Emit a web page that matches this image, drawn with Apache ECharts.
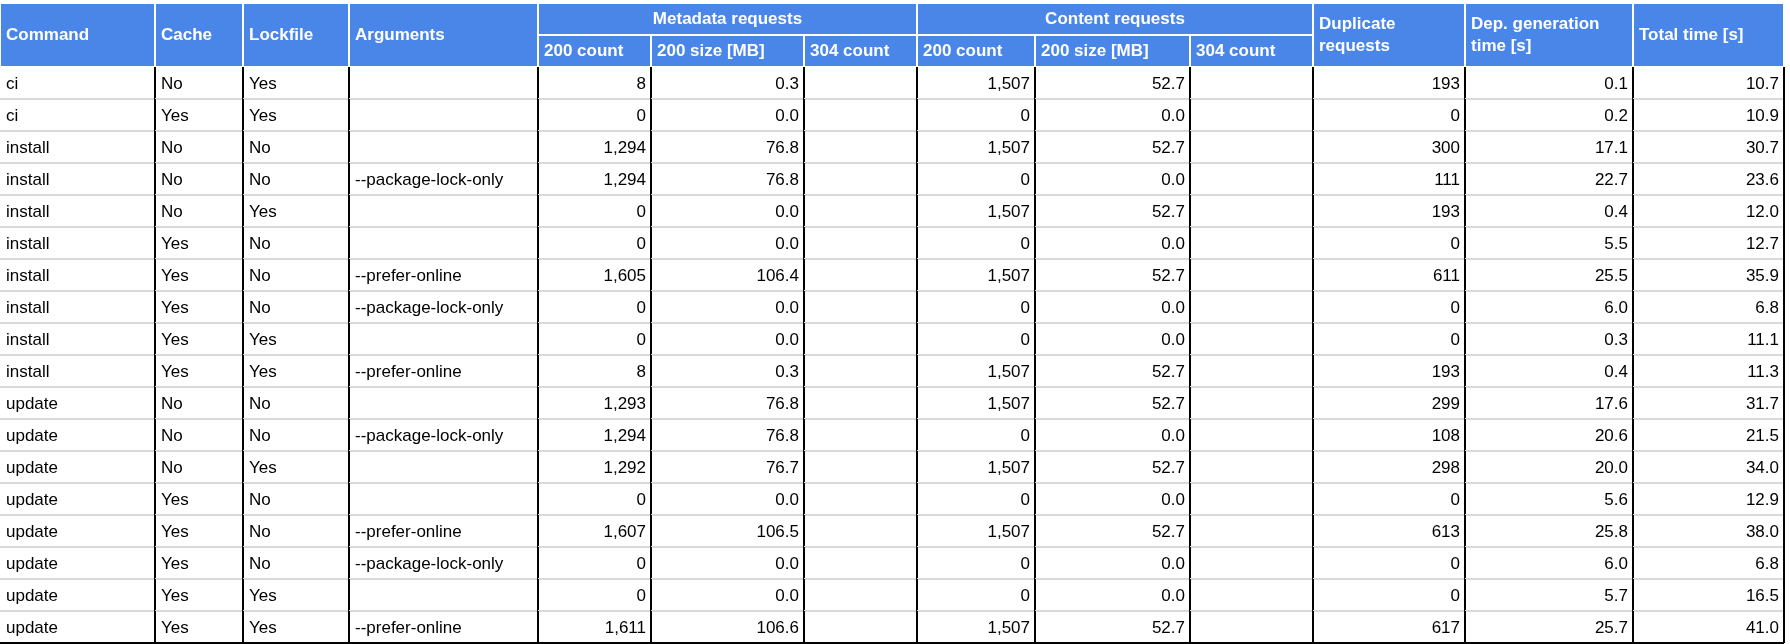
<!DOCTYPE html>
<html>
<head>
<meta charset="utf-8">
<script src="https://cdn.jsdelivr.net/npm/echarts@6/dist/echarts.min.js"></script>
<style>html,body{margin:0;padding:0;background:#fff}#main{width:1790px;height:644px}</style>
</head>
<body>
<div id="main"></div>
<script>
var commands = ['ci','ci','install','install','install','install','install','install','install','install','update','update','update','update','update','update','update','update'];
var cache = ['No','Yes','No','No','No','Yes','Yes','Yes','Yes','Yes','No','No','No','Yes','Yes','Yes','Yes','Yes'];
var lockfile = ['Yes','Yes','No','No','Yes','No','No','No','Yes','Yes','No','No','Yes','No','No','No','Yes','Yes'];
var args = ['','','','--package-lock-only','','','--prefer-online','--package-lock-only','','--prefer-online','','--package-lock-only','','','--prefer-online','--package-lock-only','','--prefer-online'];
var meta200Count = ['8','0','1,294','1,294','0','0','1,605','0','0','8','1,293','1,294','1,292','0','1,607','0','0','1,611'];
var meta200Size = ['0.3','0.0','76.8','76.8','0.0','0.0','106.4','0.0','0.0','0.3','76.8','76.8','76.7','0.0','106.5','0.0','0.0','106.6'];
var content200Count = ['1,507','0','1,507','0','1,507','0','1,507','0','0','1,507','1,507','0','1,507','0','1,507','0','0','1,507'];
var content200Size = ['52.7','0.0','52.7','0.0','52.7','0.0','52.7','0.0','0.0','52.7','52.7','0.0','52.7','0.0','52.7','0.0','0.0','52.7'];
var duplicates = ['193','0','300','111','193','0','611','0','0','193','299','108','298','0','613','0','0','617'];
var depTime = ['0.1','0.2','17.1','22.7','0.4','5.5','25.5','6.0','0.3','0.4','17.6','20.6','20.0','5.6','25.8','6.0','5.7','25.7'];
var totalTime = ['10.7','10.9','30.7','23.6','12.0','12.7','35.9','6.8','11.1','11.3','31.7','21.5','34.0','12.9','38.0','6.8','16.5','41.0'];

var mainHeaders = ['Command','Cache','Lockfile','Arguments'];
var groupHeaders = ['Metadata requests','Content requests'];
var subHeaders = ['200 count','200 size [MB]','304 count'];
var tailHeaders = ['Duplicate\nrequests','Dep. generation\ntime [s]','Total time [s]'];

// column edges in px (layout)
var edges = [0,155,243,349,538,651,804,917,1035,1190,1313,1465,1633,1784];
var nRows = commands.length;

var columns = [commands, cache, lockfile, args, meta200Count, meta200Size, [], content200Count, content200Size, [], duplicates, depTime, totalTime];

// cells: [x0, x1, y0, y1, text, kind]
var cells = [];
mainHeaders.forEach(function (t, i) { cells.push([edges[i], edges[i+1], 0, 2, t, 'h']); });
groupHeaders.forEach(function (t, g) {
    var c = 4 + g*3;
    cells.push([edges[c], edges[c+3], 0, 1, t, 'hc']);
    subHeaders.forEach(function (s, k) { cells.push([edges[c+k], edges[c+k+1], 1, 2, s, 'h']); });
});
tailHeaders.forEach(function (t, i) { cells.push([edges[10+i], edges[11+i], 0, 2, t, 'h']); });
for (var r = 0; r < nRows; r++) {
    columns.forEach(function (col, c) {
        cells.push([edges[c], edges[c+1], 2+r, 3+r, col[r] || '', c < 4 ? 'l' : 'r']);
    });
}

var chart = echarts.init(document.getElementById('main'));
chart.setOption({
    animation: false,
    grid: {left: 0, right: 0, top: 3, bottom: 1},
    xAxis: {type: 'value', min: 0, max: 1790, show: false},
    yAxis: {type: 'value', min: 0, max: 20, inverse: true, show: false},
    series: [{
        type: 'custom',
        data: cells,
        encode: {x: [0, 1], y: [2, 3]},
        renderItem: function (params, api) {
            var p0 = api.coord([api.value(0), api.value(2)]);
            var p1 = api.coord([api.value(1), api.value(3)]);
            var kind = api.value(5);
            var text = cells[params.dataIndex][4];
            var w = p1[0] - p0[0], h = p1[1] - p0[1];
            var children = [];
            if (kind[0] === 'h') {
                children.push({type: 'rect', shape: {x: p0[0], y: p0[1], width: w, height: h},
                    style: {fill: '#4a86e8', stroke: '#fff', lineWidth: 2}});
                children.push({type: 'text', style: {
                    text: text, x: kind === 'hc' ? p0[0] + w/2 : p0[0] + 6, y: p0[1] + h/2,
                    align: kind === 'hc' ? 'center' : 'left', verticalAlign: 'middle',
                    fill: '#fff', font: 'bold 17px "Liberation Sans", Arial', lineHeight: 22}});
            } else {
                children.push({type: 'line', shape: {x1: p0[0], y1: p1[1], x2: p1[0], y2: p1[1]},
                    style: {stroke: api.value(3) === 20 ? '#000' : '#d9d9d9', lineWidth: 2}});
                children.push({type: 'line', shape: {x1: p1[0], y1: p0[1], x2: p1[0], y2: p1[1]},
                    style: {stroke: '#000', lineWidth: 2}});
                children.push({type: 'text', style: {
                    text: text, x: kind === 'l' ? p0[0] + 6 : p1[0] - 5, y: p0[1] + h/2 + 1,
                    align: kind === 'l' ? 'left' : 'right', verticalAlign: 'middle',
                    fill: '#000', font: '17px "Liberation Sans", Arial'}});
            }
            return {type: 'group', children: children};
        }
    }]
});
</script>
</body>
</html>
